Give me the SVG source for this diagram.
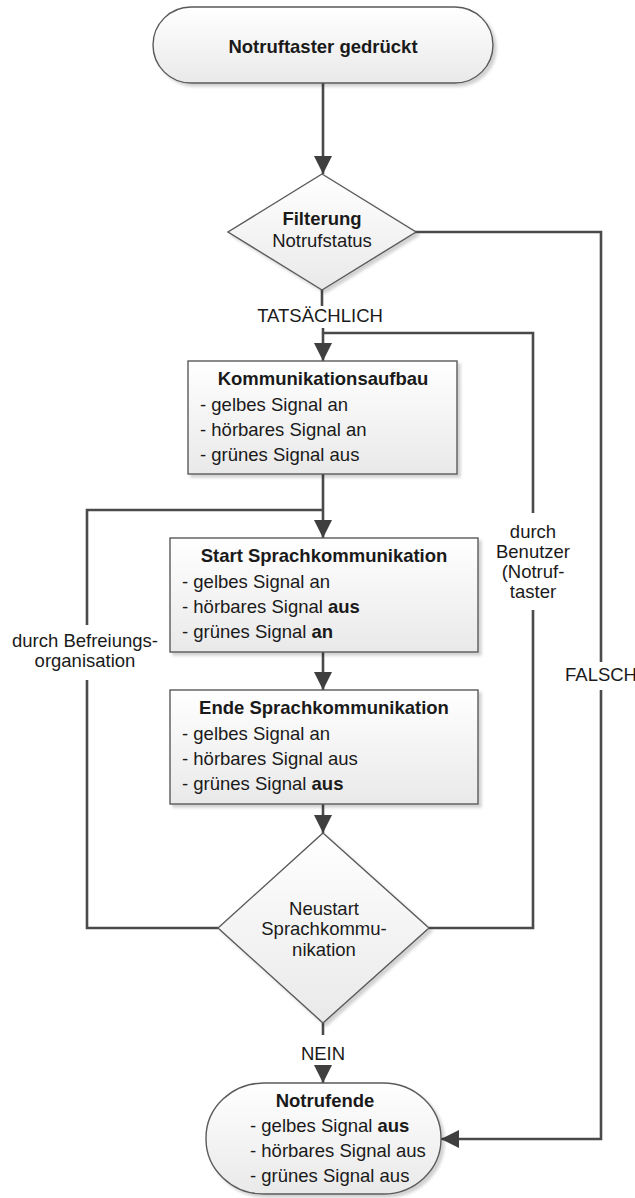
<svg xmlns="http://www.w3.org/2000/svg" width="635" height="1198" viewBox="0 0 635 1198">
<style>
.node{fill:url(#g);stroke:#5a5a5a;stroke-width:1.4;filter:url(#sh)}
.t{font-family:"Liberation Sans",Arial,sans-serif;font-size:18.5px;fill:#1a1a1a}
.b{font-weight:bold}
.c{text-anchor:middle}
.con{fill:none;stroke:#4a4a4a;stroke-width:2.6}
.arr{marker-end:url(#ah)}
</style>
<defs>
<linearGradient id="g" x1="0" y1="0" x2="0" y2="1">
<stop offset="0" stop-color="#ffffff"/>
<stop offset="1" stop-color="#e9e9e9"/>
</linearGradient>
<filter id="sh" x="-10%" y="-10%" width="130%" height="130%">
<feDropShadow dx="3" dy="3" stdDeviation="1.5" flood-color="#000" flood-opacity="0.18"/>
</filter>
<marker id="ah" markerUnits="userSpaceOnUse" markerWidth="18" markerHeight="18" refX="18" refY="9" orient="auto">
<path d="M0,0 L18,9 L0,18 z" fill="#3f3f3f"/>
</marker>
</defs>
<rect width="635" height="1198" fill="#fff"/>

<g id="connectors">
<path class="con arr" d="M323,83 V174"/>
<path class="con" d="M322,290 V306"/>
<path class="con arr" d="M323,328 V361"/>
<path class="con" d="M429,928 H533 V610"/>
<path class="con" d="M533,513 V333 H323"/>
<path class="con arr" d="M323,474 V538"/>
<path class="con" d="M218,928 H87 V680"/>
<path class="con" d="M87,625 V510 H323"/>
<path class="con arr" d="M323,652 V690"/>
<path class="con arr" d="M323,804 V833"/>
<path class="con" d="M323,1023 V1035"/>
<path class="con arr" d="M323,1066 V1083"/>
<path class="con" d="M415,232 H601 V662"/>
<path class="con arr" d="M601,690 V1139 H441"/>
<text class="t c" x="320" y="322">TATSÄCHLICH</text>
<text class="t c" x="323" y="1060">NEIN</text>
<text class="t c" x="601" y="681">FALSCH</text>
<text class="t c" x="533" y="538">durch</text>
<text class="t c" x="533" y="558">Benutzer</text>
<text class="t c" x="533" y="578">(Notruf-</text>
<text class="t c" x="533" y="598">taster</text>
<text class="t c" x="85" y="647">durch Befreiungs-</text>
<text class="t c" x="85" y="667">organisation</text>
</g>

<g id="start">
<rect class="node" x="153" y="7" width="340" height="76" rx="38" ry="38"/>
<text class="t b c" x="323" y="53">Notruftaster gedrückt</text>
</g>

<g id="filterung">
<polygon class="node" points="322,174 416,232 322,290 228,232"/>
<text class="t b c" x="322" y="225">Filterung</text>
<text class="t c" x="322" y="247">Notrufstatus</text>
</g>

<g id="kommunikationsaufbau">
<rect class="node" x="188" y="361" width="269" height="113"/>
<text class="t b c" x="323" y="385">Kommunikationsaufbau</text>
<text class="t" x="200" y="411">- gelbes Signal an</text>
<text class="t" x="200" y="436">- hörbares Signal an</text>
<text class="t" x="200" y="461">- grünes Signal aus</text>
</g>

<g id="start-sprach">
<rect class="node" x="170" y="538" width="308" height="114"/>
<text class="t b c" x="324" y="562">Start Sprachkommunikation</text>
<text class="t" x="182" y="588">- gelbes Signal an</text>
<text class="t" x="182" y="613">- hörbares Signal <tspan class="b">aus</tspan></text>
<text class="t" x="182" y="638">- grünes Signal <tspan class="b">an</tspan></text>
</g>

<g id="ende-sprach">
<rect class="node" x="170" y="690" width="308" height="114"/>
<text class="t b c" x="324" y="714">Ende Sprachkommunikation</text>
<text class="t" x="182" y="740">- gelbes Signal an</text>
<text class="t" x="182" y="765">- hörbares Signal aus</text>
<text class="t" x="182" y="790">- grünes Signal <tspan class="b">aus</tspan></text>
</g>

<g id="neustart">
<polygon class="node" points="323,833 429,928 323,1023 218,928"/>
<text class="t c" x="324" y="915">Neustart</text>
<text class="t c" x="324" y="935">Sprachkommu-</text>
<text class="t c" x="324" y="956">nikation</text>
</g>

<g id="notrufende">
<rect class="node" x="206" y="1083" width="235" height="111" rx="58" ry="55"/>
<text class="t b c" x="325" y="1107">Notrufende</text>
<text class="t" x="250" y="1132">- gelbes Signal <tspan class="b">aus</tspan></text>
<text class="t" x="250" y="1157">- hörbares Signal aus</text>
<text class="t" x="250" y="1182">- grünes Signal aus</text>
</g>
</svg>
